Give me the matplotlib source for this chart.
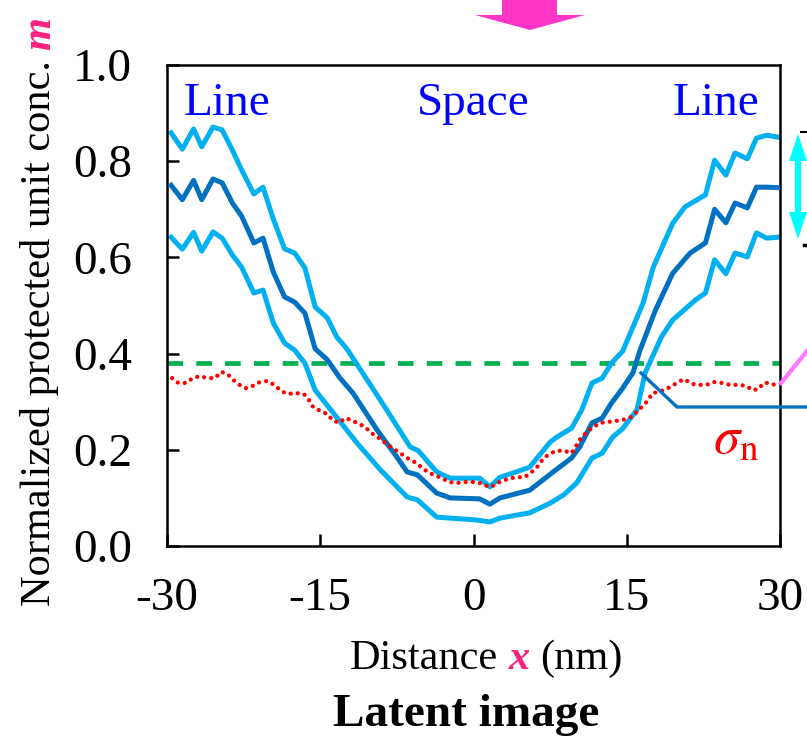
import matplotlib
matplotlib.use("Agg")
import matplotlib.pyplot as plt
from matplotlib.patches import Polygon
import numpy as np

plt.rcParams['font.family'] = ['Liberation Serif', 'DejaVu Serif']
plt.rcParams['mathtext.fontset'] = 'stix'

# ---- data ----
# mean concentration (dark blue)
x_mean = [-29.6, -28.5, -27.4, -26.6, -25.5, -24.6, -23.6, -22.7, -21.5, -20.6,
          -19.6, -18.5, -17.5, -16.5, -15.5, -14.3, -13.1, -11.8, -9.4, -7.5,
          -6.5, -5.5, -3.6, -2.3, 0.6, 1.6, 2.6, 5.5, 7.8, 9.6,
          10.4, 11.6, 12.6, 13.5, 14.6, 15.6, 16.3, 17.8, 19.5, 21.2,
          22.7, 23.6, 24.7, 25.6, 26.8, 27.7, 28.7, 29.8]
m_mean = [0.75, 0.72, 0.76, 0.72, 0.763, 0.755, 0.713, 0.686, 0.63, 0.64,
          0.57, 0.518, 0.507, 0.484, 0.41, 0.387, 0.35, 0.318, 0.24, 0.185,
          0.154, 0.148, 0.11, 0.10, 0.098, 0.087, 0.10, 0.116, 0.154, 0.183,
          0.206, 0.256, 0.266, 0.297, 0.328, 0.36, 0.407, 0.49, 0.567, 0.609,
          0.63, 0.70, 0.672, 0.713, 0.703, 0.746, 0.746, 0.745]

# upper band (light blue)
x_upper = [-29.6, -28.5, -27.4, -26.6, -25.5, -24.6, -23.6, -22.7, -21.5, -20.6,
           -19.6, -18.5, -17.5, -16.5, -15.5, -14.3, -13.4, -12.4, -10.4, -8.5,
           -6.2, -5.4, -3.6, -2.3, 0.6, 1.6, 2.6, 3.9, 5.5, 7.5,
           8.2, 9.6, 10.6, 11.6, 12.6, 13.5, 14.6, 16.6, 17.6, 19.5,
           20.7, 22.7, 23.6, 24.7, 25.6, 26.8, 27.7, 28.7, 29.8]
m_upper = [0.859, 0.825, 0.867, 0.83, 0.871, 0.865, 0.823, 0.782, 0.732, 0.746,
           0.68, 0.618, 0.609, 0.578, 0.497, 0.474, 0.435, 0.41, 0.345, 0.283,
           0.206, 0.198, 0.154, 0.141, 0.141, 0.123, 0.143, 0.152, 0.164, 0.216,
           0.227, 0.245, 0.283, 0.339, 0.349, 0.38, 0.405, 0.505, 0.58, 0.671,
           0.705, 0.73, 0.802, 0.771, 0.817, 0.805, 0.848, 0.854, 0.85]

# lower band (light blue)
x_lower = [-29.6, -28.5, -27.4, -26.6, -25.5, -24.6, -23.6, -22.7, -21.5, -20.6,
           -19.6, -18.5, -17.5, -16.5, -15.5, -13.7, -11.4, -9.1, -6.5, -5.5,
           -3.6, -2.3, 0.3, 1.6, 2.6, 5.5, 7.5, 8.8, 10.1, 11.6,
           12.6, 13.6, 14.6, 16.0, 16.8, 18.4, 19.5, 21.7, 22.7, 23.6,
           24.7, 25.6, 26.8, 27.7, 28.7, 29.8]
m_lower = [0.642, 0.617, 0.652, 0.613, 0.653, 0.64, 0.605, 0.58, 0.526, 0.532,
           0.464, 0.422, 0.407, 0.38, 0.324, 0.276, 0.214, 0.158, 0.102, 0.096,
           0.06, 0.058, 0.054, 0.05, 0.058, 0.069, 0.089, 0.106, 0.131, 0.183,
           0.193, 0.226, 0.244, 0.283, 0.36, 0.435, 0.47, 0.511, 0.526, 0.595,
           0.566, 0.609, 0.601, 0.651, 0.64, 0.642]

# sigma_n (red dotted)
x_sigma = [-29.5, -28.9, -28.1, -27.5, -26.8, -26.0, -25.3, -24.7, -24.1, -23.5,
           -22.9, -22.3, -21.6, -20.9, -20.2, -19.5, -18.8, -18.2, -17.4, -16.6,
           -16.1, -15.7, -15.0, -14.3, -13.8, -13.2, -12.5, -11.8, -11.0, -10.4,
           -9.8, -9.1, -8.5, -7.8, -7.1, -6.5, -5.8, -5.1, -4.5, -3.9,
           -3.1, -2.4, -1.6, -0.8, 0.0, 0.6, 1.3, 1.8, 2.1, 2.8,
           3.6, 4.3, 5.0, 5.7, 6.3, 6.8, 7.4, 8.1, 8.9, 9.6,
           10.1, 10.5, 11.1, 11.7, 12.4, 13.2, 13.9, 14.6, 15.4, 16.0,
           16.6, 17.1, 17.5, 18.1, 18.6, 19.3, 19.9, 20.6, 21.4, 22.1,
           22.8, 23.5, 24.3, 25.1, 25.9, 26.7, 27.3, 27.9, 28.4, 29.0, 29.7]
s_sigma = [0.349, 0.339, 0.339, 0.349, 0.353, 0.349, 0.349, 0.362, 0.358, 0.345,
           0.335, 0.328, 0.333, 0.341, 0.343, 0.335, 0.322, 0.316, 0.318, 0.316,
           0.303, 0.289, 0.281, 0.274, 0.262, 0.256, 0.266, 0.260, 0.252, 0.243,
           0.232, 0.222, 0.212, 0.202, 0.192, 0.183, 0.175, 0.164, 0.154, 0.148,
           0.141, 0.133, 0.131, 0.133, 0.133, 0.131, 0.125, 0.123, 0.129, 0.135,
           0.141, 0.143, 0.143, 0.154, 0.166, 0.181, 0.191, 0.198, 0.198, 0.193,
           0.21, 0.224, 0.237, 0.247, 0.256, 0.258, 0.260, 0.262, 0.268, 0.279,
           0.292, 0.303, 0.318, 0.320, 0.324, 0.331, 0.339, 0.347, 0.337, 0.335,
           0.335, 0.341, 0.339, 0.335, 0.335, 0.333, 0.324, 0.326, 0.339, 0.339, 0.333]

threshold = 0.38

x_ticks = [-30, -15, 0, 15, 30]
x_tick_labels = ['-30', '-15', '0', '15', '30']
y_ticks = [0.0, 0.2, 0.4, 0.6, 0.8, 1.0]
y_tick_labels = ['0.0', '0.2', '0.4', '0.6', '0.8', '1.0']

W, H = 807, 737


def fx(px):
    return px / W


def fy(py):
    return 1 - py / H


fig = plt.figure(figsize=(W / 100, H / 100), dpi=100)
ax = fig.add_axes([fx(167), fy(546), (780 - 167) / W, (546 - 65) / H])

light = '#00B0F0'
dark = '#0070C0'

ax.axhline(threshold, color='#00B050', lw=3.4, dashes=(3.3, 2.8), zorder=1)
ax.plot(x_upper, m_upper, color=light, lw=3.6, zorder=2)
ax.plot(x_lower, m_lower, color=light, lw=3.6, zorder=2)
ax.plot(x_mean, m_mean, color=dark, lw=3.6, zorder=3)
ax.plot(x_sigma, s_sigma, color='#FF0000', lw=3.1, linestyle=(0, (0.01, 1.65)),
        dash_capstyle='round', zorder=4)

ax.set_xlim(-30, 30)
ax.set_ylim(0, 1)
ax.set_xticks(x_ticks)
ax.set_xticklabels(x_tick_labels)
ax.set_yticks(y_ticks)
ax.set_yticklabels(y_tick_labels)
ax.tick_params(direction='in', length=8.6, width=1.8, labelsize=34)
ax.tick_params(axis='x', pad=23)
ax.tick_params(axis='y', pad=25)
for sp in ax.spines.values():
    sp.set_linewidth(1.8)

# region labels
ax.text(-28.4, 0.896, 'Line', color='#0000FF', fontsize=34, ha='left', va='baseline')
ax.text(0.0, 0.896, 'Space', color='#0000FF', fontsize=34, ha='center', va='baseline')
ax.text(28.0, 0.896, 'Line', color='#0000FF', fontsize=34, ha='right', va='baseline')

# mixed-style labels laid out piece by piece
fig.canvas.draw()
renderer = fig.canvas.get_renderer()
pink = '#FF2080'


def text_run(x_px, y_px, parts, vertical=False):
    for s, kw in parts:
        if s is None:
            step = kw
            if vertical:
                y_px -= step
            else:
                x_px += step
            continue
        if vertical:
            t = fig.text(fx(x_px), fy(y_px), s, rotation=90, rotation_mode='anchor',
                         ha='left', va='baseline', **kw)
            y_px -= t.get_window_extent(renderer).height
        else:
            t = fig.text(fx(x_px), fy(y_px), s, ha='left', va='baseline', **kw)
            x_px += t.get_window_extent(renderer).width


sp30 = 0.25 * 30 * 100 / 72
text_run(350, 669, [('Distance', dict(fontsize=30.5)), (None, sp30),
                    ('x', dict(fontsize=30.5, color=pink, fontweight='bold', fontstyle='italic')),
                    (None, sp30), ('(nm)', dict(fontsize=30.5))])
text_run(50, 606, [('Normalized protected unit conc.', dict(fontsize=30.5)), (None, sp30),
                   ('m', dict(fontsize=30.5, color=pink, fontweight='bold', fontstyle='italic'))],
         vertical=True)

fig.text(fx(466), fy(726), 'Latent image', fontsize=34, fontweight='bold',
         ha='center', va='baseline')

# sigma_n label
fig.text(fx(713), fy(454), r'$\sigma_{\rm n}$', color='#FF0000', fontsize=38,
         ha='left', va='baseline')

# decorations around the chart
arrow_pts = [(502, 0), (557, 0), (557, 15), (585, 15), (530, 30), (475, 15), (502, 15)]
fig.patches.append(Polygon([(fx(a), fy(b)) for a, b in arrow_pts], closed=True,
                           transform=fig.transFigure, color='#FF35C8', lw=0))

cy = '#00FFFF'
fig.add_artist(plt.Line2D([fx(798), fx(798)], [fy(158), fy(215)], color=cy, lw=4.5))
for tri in ([(798, 134), (789, 161), (807, 161)], [(798, 239), (789, 212), (807, 212)]):
    fig.patches.append(Polygon([(fx(a), fy(b)) for a, b in tri], closed=True,
                               transform=fig.transFigure, color=cy, lw=0))
fig.add_artist(plt.Line2D([fx(801), fx(807)], [fy(132), fy(132)], color='black', lw=1.5))
fig.add_artist(plt.Line2D([fx(804), fx(806)], [fy(245), fy(245)], color='black', lw=2.5))

fig.add_artist(plt.Line2D([fx(781), fx(807)], [fy(383), fy(351)], color='#FF77FF', lw=3))
fig.add_artist(plt.Line2D([fx(641), fx(677), fx(807)], [fy(373), fy(407), fy(407)],
                          color=dark, lw=2.4))

plt.savefig("out.png", dpi=100)
